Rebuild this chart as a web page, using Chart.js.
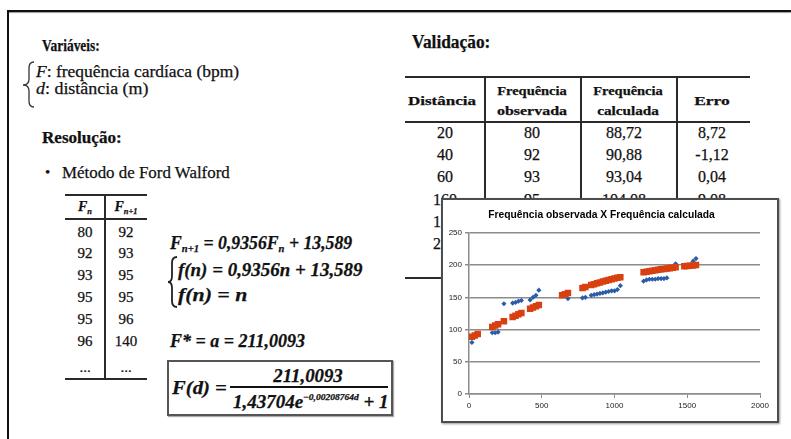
<!DOCTYPE html>
<html lang="pt">
<head>
<meta charset="utf-8">
<title>Frequência observada X Frequência calculada</title>
<script src="https://cdn.jsdelivr.net/npm/chart.js@4.4.1/dist/chart.umd.min.js"></script>
<style>
  html, body { margin: 0; padding: 0; background: #fff; }
  body { width: 791px; height: 439px; position: relative; overflow: hidden; font-family: "Liberation Serif", "Times New Roman", serif; color: #111; }
  .t { position: absolute; white-space: nowrap; line-height: 1; transform-origin: left center; -webkit-text-stroke: 0.25px #111; }
  .c { transform-origin: center center; }
  .b { font-weight: bold; }
  .eq { font-weight: bold; font-style: italic; }
  .ln { position: absolute; background: #2a2a2a; }
  sub { font-size: 0.6em; vertical-align: -0.3em; line-height: 0; }
  sup { font-size: 0.5em; vertical-align: 0.9em; line-height: 0; }
  #frame-top { position: absolute; left: 7px; top: 10px; width: 784px; height: 2px; background: #111; box-shadow: 0 1px 1px #999; }
  #frame-left { position: absolute; left: 7px; top: 10px; width: 2px; height: 429px; background: #111; }
  #box { position: absolute; left: 167px; top: 360px; width: 222px; height: 52px; border: 2px solid #555; box-shadow: 1px 1px 1px #aaa; }
  #chartBox { position: absolute; left: 441px; top: 198px; width: 334px; height: 221px; border: 2px solid #4d4d4d; background: #fff; box-shadow: 1px 1px 2px #999; }
  #chartBox canvas { display: block; }
</style>
</head>
<body>
<div id="frame-top"></div>
<div id="frame-left"></div>

<!-- coluna da esquerda -->
<div class="t b" style="left:42px;top:46px;font-size:16px" data-w="58">Variáveis:</div>
<svg style="position:absolute;left:0;top:0" width="60" height="120">
  <path d="M34,62 Q29,62 29,68 L29,79 Q29,85 23,85 Q29,85 29,91 L29,101 Q29,107 34,107" fill="none" stroke="#333" stroke-width="1.3"/>
</svg>
<div class="t" style="left:36px;top:72px;font-size:16px" data-w="203"><i>F</i>: frequência cardíaca (bpm)</div>
<div class="t" style="left:36px;top:89px;font-size:16px" data-w="112"><i>d</i>: distância (m)</div>
<div class="t b" style="left:42px;top:138px;font-size:16px" data-w="80">Resolução:</div>
<div class="t" style="left:45px;top:172px;font-size:15px">•</div>
<div class="t" style="left:62px;top:172px;font-size:17px" data-w="168">Método de Ford Walford</div>

<!-- tabela Fn -->
<div class="ln" style="left:65px;top:194px;width:82px;height:2px"></div>
<div class="ln" style="left:65px;top:218px;width:82px;height:2px"></div>
<div class="ln" style="left:65px;top:378px;width:82px;height:2px"></div>
<div class="ln" style="left:104px;top:194px;width:2px;height:186px"></div>
<div id="fnTable"></div>

<!-- equações -->
<div class="t eq" style="left:170px;top:243px;font-size:18px" data-w="182"><i>F</i><sub>n+1</sub> = 0,9356<i>F</i><sub>n</sub> + 13,589</div>
<svg style="position:absolute;left:160px;top:250px" width="30" height="70">
  <path d="M17,7 Q12,7 12,13 L12,26 Q12,32 8,32 Q12,32 12,38 L12,51 Q12,57 17,57" fill="none" stroke="#222" stroke-width="1.8"/>
</svg>
<div class="t eq" style="left:178px;top:270px;font-size:18px" data-w="185">f(n) = 0,9356n + 13,589</div>
<div class="t eq" style="left:178px;top:295px;font-size:18px" data-w="69">f(n) = n</div>
<div class="t eq" style="left:170px;top:341px;font-size:18px" data-w="135">F* = a = 211,0093</div>
<div id="box"></div>
<div class="t eq" style="left:172px;top:388px;font-size:18px" data-w="55">F(d) =</div>
<div class="t eq c" style="left:308px;top:376px;font-size:18px" data-w="70">211,0093</div>
<div class="ln" style="left:230px;top:386px;width:158px;height:1.5px;background:#111"></div>
<div class="t eq" style="left:233px;top:402px;font-size:18px" data-w="155">1,43704e<sup>−0,00208764d</sup> + 1</div>

<!-- validação -->
<div class="t b" style="left:412px;top:42px;font-size:18px" data-w="78">Validação:</div>
<div class="ln" style="left:405px;top:76px;width:345px;height:2px"></div>
<div class="ln" style="left:405px;top:121px;width:345px;height:2px"></div>
<div class="ln" style="left:405px;top:277px;width:345px;height:2px"></div>
<div class="ln" style="left:484px;top:76px;width:1.5px;height:203px"></div>
<div class="ln" style="left:580px;top:76px;width:1.5px;height:203px"></div>
<div class="ln" style="left:676px;top:76px;width:1.5px;height:203px"></div>
<div class="t b c" style="left:442px;top:100px;font-size:13px" data-w="68">Distância</div>
<div class="t b c" style="left:532px;top:90px;font-size:13px" data-w="70">Frequência</div>
<div class="t b c" style="left:532px;top:110px;font-size:13px" data-w="70">observada</div>
<div class="t b c" style="left:628px;top:90px;font-size:13px" data-w="70">Frequência</div>
<div class="t b c" style="left:628px;top:110px;font-size:13px" data-w="62">calculada</div>
<div class="t b c" style="left:712px;top:100px;font-size:13px" data-w="35">Erro</div>
<div id="valTable"></div>

<div id="chartBox"><canvas id="scatter" width="334" height="221"></canvas></div>

<script>
// tabela do método de Ford Walford
const fn = ['80', '92', '93', '95', '95', '96', '...'];
const fn1 = ['92', '93', '95', '95', '96', '140', '...'];

// tabela de validação
const valDistancia = ['20', '40', '60', '160', '180', '200'];
const valObservada = ['80', '92', '93', '95', '95', '96'];
const valCalculada = ['88,72', '90,88', '93,04', '104,08', '106,24', '108,38'];
const valErro = ['8,72', '-1,12', '0,04', '9,08', '11,24', '12,38'];

// dados do gráfico (distância em m, frequência em bpm)
const distancias = [20, 40, 60, 160, 180, 200, 240, 300, 320, 340, 360, 420, 440, 460, 480,
  640, 660, 680, 780, 800, 840, 860, 880, 900, 920, 940, 960, 980, 1000, 1020, 1040,
  1200, 1220, 1240, 1260, 1280, 1300, 1320, 1340, 1360, 1380, 1400, 1420,
  1480, 1500, 1520, 1540, 1560];
const freqObservada = [80, 92, 93, 95, 95, 96, 140, 141, 142, 144, 145, 146, 150, 153, 161,
  154, 155, 148, 149, 150, 153, 154, 155, 156, 157, 158, 159, 160, 160, 162, 168,
  175, 177, 178, 178, 178, 179, 179, 179, 180, 194, 196, 202,
  197, 198, 199, 206, 210];
const freqCalculada = [88.72, 90.88, 93.04, 104.08, 106.24, 108.38, 112.79, 119.34, 121.51, 123.64, 125.78,
  132.05, 134.12, 136.14, 138.13, 153.16, 154.89, 156.59,
  164.6, 166.08, 168.96, 170.35, 171.71, 173.02, 174.35, 175.56, 176.76, 177.94, 179.09, 180.2, 181.28,
  188.8, 189.6, 190.4, 191.2, 192.0, 192.65, 193.33, 194.0, 194.64, 195.25, 195.85, 196.43,
  198.05, 198.55, 199.03, 199.5, 199.94];
const xTicks = [0, 500, 1000, 1500, 2000];
const yTicks = [0, 50, 100, 150, 200, 250];

function cell(parent, text, x, y, size, extra) {
  const el = document.createElement('div');
  el.className = 't c' + (extra ? ' ' + extra : '');
  el.style.left = x + 'px';
  el.style.top = y + 'px';
  el.style.fontSize = size + 'px';
  el.innerHTML = text;
  parent.appendChild(el);
}

// monta as tabelas
const fnTable = document.getElementById('fnTable');
cell(fnTable, '<i>F</i><sub>n</sub>', 85, 207, 14, 'eq');
cell(fnTable, '<i>F</i><sub>n+1</sub>', 126, 207, 14, 'eq');
const fnRows = [232, 253, 275, 297, 319, 341, 367];
fn.forEach((v, i) => {
  cell(fnTable, v, 85, fnRows[i], 15);
  cell(fnTable, fn1[i], 126, fnRows[i], 15);
});

const valTable = document.getElementById('valTable');
const valRows = [133, 155, 177, 200, 222, 244];
valDistancia.forEach((v, i) => {
  cell(valTable, v, 445, valRows[i], 16);
  cell(valTable, valObservada[i], 532, valRows[i], 16);
  cell(valTable, valCalculada[i], 624, valRows[i], 16);
  cell(valTable, valErro[i], 712, valRows[i], 16);
});

// centraliza verticalmente e ajusta a largura dos textos
document.querySelectorAll('.t').forEach(el => {
  const s = el.dataset.w ? el.dataset.w / el.offsetWidth : 1;
  if (el.classList.contains('c')) {
    el.style.transform = 'translate(-50%, -50%) scaleX(' + s + ')';
  } else {
    el.style.transform = 'translateY(-50%) scaleX(' + s + ')';
  }
});

const gray = '#8c8c8c';

new Chart(document.getElementById('scatter'), {
  type: 'scatter',
  data: {
    datasets: [
      {
        label: 'Frequência calculada',
        data: distancias.map((d, i) => ({ x: d, y: freqCalculada[i] })),
        pointStyle: 'rect',
        pointRadius: 4.6,
        backgroundColor: '#d8400f',
        borderColor: '#d8400f',
        borderWidth: 0,
        order: 0
      },
      {
        label: 'Frequência observada',
        data: distancias.map((d, i) => ({ x: d, y: freqObservada[i] })),
        pointStyle: 'rectRot',
        pointRadius: 2.6,
        backgroundColor: '#2a5da8',
        borderColor: '#2a5da8',
        borderWidth: 0,
        order: 1
      }
    ]
  },
  options: {
    responsive: false,
    animation: false,
    devicePixelRatio: 1,
    layout: { padding: { left: 0, right: 17, top: 0, bottom: 0 } },
    plugins: {
      legend: { display: false },
      tooltip: { enabled: false },
      title: {
        display: true,
        text: 'Frequência observada X Frequência calculada',
        color: '#000',
        font: { family: 'Liberation Sans', size: 10.3, weight: 'bold', lineHeight: 1.1 },
        padding: { top: 9, bottom: 12.5 }
      }
    },
    scales: {
      x: {
        type: 'linear',
        min: 0,
        max: 2000,
        afterBuildTicks: axis => { axis.ticks = xTicks.map(v => ({ value: v })); },
        afterFit: scale => { scale.height = 27; },
        grid: { drawOnChartArea: false, drawTicks: true, tickLength: 4, color: gray },
        border: { color: gray, width: 1.5 },
        ticks: { color: '#222', padding: 3, callback: v => String(v), font: { family: 'Liberation Sans', size: 8 } }
      },
      y: {
        min: 0,
        max: 250,
        afterBuildTicks: axis => { axis.ticks = yTicks.map(v => ({ value: v })); },
        afterFit: scale => { scale.width = 26; },
        grid: { color: gray, lineWidth: 1.5, tickLength: 4 },
        border: { color: gray, width: 1.5 },
        ticks: { color: '#222', padding: 3, callback: v => String(v), font: { family: 'Liberation Sans', size: 8 } }
      }
    }
  }
});
</script>
</body>
</html>
